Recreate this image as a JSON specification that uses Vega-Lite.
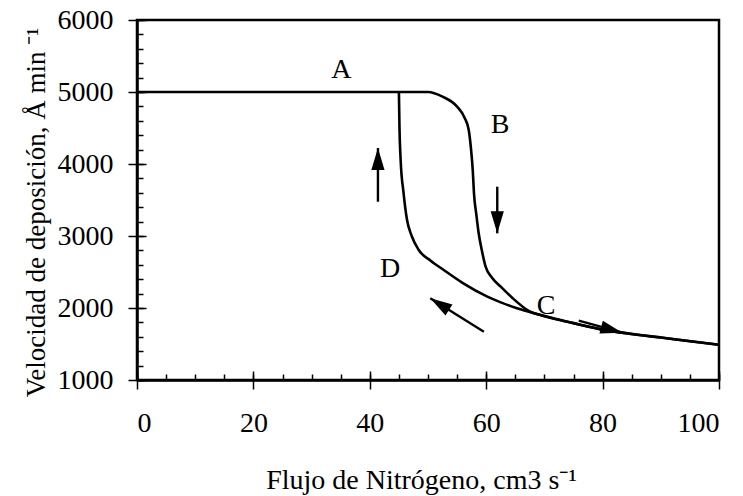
{
  "$schema": "https://vega.github.io/schema/vega-lite/v6.json",
  "width": 582,
  "height": 360,
  "autosize": {"type": "none"},
  "padding": {"left": 137, "top": 20, "right": 24, "bottom": 116},
  "background": "white",
  "config": {
    "view": {"stroke": "black", "strokeWidth": 2.5},
    "font": "Liberation Serif",
    "axis": {"labelFont": "Liberation Serif", "titleFont": "Liberation Serif", "labelColor": "black", "titleColor": "black", "tickColor": "black", "domainColor": "black", "titleFontWeight": "normal"}
  },
  "datasets": {
    "curve": [
      {"serie": "ida", "x": 0, "y": 5000},
      {"serie": "ida", "x": 25, "y": 5000},
      {"serie": "ida", "x": 50, "y": 5000},
      {"serie": "ida", "x": 52.5, "y": 4935},
      {"serie": "ida", "x": 55, "y": 4796},
      {"serie": "ida", "x": 56.3, "y": 4640},
      {"serie": "ida", "x": 57, "y": 4472},
      {"serie": "ida", "x": 57.4, "y": 4200},
      {"serie": "ida", "x": 57.7, "y": 3900},
      {"serie": "ida", "x": 57.9, "y": 3593},
      {"serie": "ida", "x": 58.3, "y": 3300},
      {"serie": "ida", "x": 58.7, "y": 3042},
      {"serie": "ida", "x": 59.3, "y": 2780},
      {"serie": "ida", "x": 59.9, "y": 2574},
      {"serie": "ida", "x": 61, "y": 2420},
      {"serie": "ida", "x": 62.5, "y": 2296},
      {"serie": "ida", "x": 64.5, "y": 2140},
      {"serie": "ida", "x": 67.3, "y": 1960},
      {"serie": "ida", "x": 70, "y": 1885},
      {"serie": "ida", "x": 75, "y": 1790},
      {"serie": "ida", "x": 80, "y": 1700},
      {"serie": "ida", "x": 85, "y": 1640},
      {"serie": "ida", "x": 90, "y": 1590},
      {"serie": "ida", "x": 95, "y": 1538},
      {"serie": "ida", "x": 100, "y": 1490},
      {"serie": "vuelta", "x": 45, "y": 5000},
      {"serie": "vuelta", "x": 45.1, "y": 4500},
      {"serie": "vuelta", "x": 45.3, "y": 4056},
      {"serie": "vuelta", "x": 45.8, "y": 3600},
      {"serie": "vuelta", "x": 46.4, "y": 3222},
      {"serie": "vuelta", "x": 47.2, "y": 3000},
      {"serie": "vuelta", "x": 48.4, "y": 2806},
      {"serie": "vuelta", "x": 50.4, "y": 2660},
      {"serie": "vuelta", "x": 52.7, "y": 2528},
      {"serie": "vuelta", "x": 56, "y": 2345},
      {"serie": "vuelta", "x": 60.2, "y": 2157},
      {"serie": "vuelta", "x": 62.5, "y": 2078},
      {"serie": "vuelta", "x": 65.3, "y": 1996},
      {"serie": "vuelta", "x": 68.2, "y": 1926},
      {"serie": "vuelta", "x": 72.8, "y": 1833},
      {"serie": "vuelta", "x": 80, "y": 1700},
      {"serie": "vuelta", "x": 90, "y": 1590},
      {"serie": "vuelta", "x": 100, "y": 1490}
    ],
    "arrows": [
      {"flecha": "arriba", "x": 41.4, "y": 3476, "x2": 41.4, "y2": 4222},
      {"flecha": "abajo", "x": 61.9, "y": 3685, "x2": 61.9, "y2": 3037},
      {"flecha": "izquierda", "x": 59.6, "y": 1671, "x2": 50.4, "y2": 2134},
      {"flecha": "derecha", "x": 75.9, "y": 1824, "x2": 83.4, "y2": 1657}
    ],
    "labels": [
      {"label": "A", "x": 35.1, "y": 5306},
      {"label": "B", "x": 62.4, "y": 4542},
      {"label": "C", "x": 70.3, "y": 2028},
      {"label": "D", "x": 43.5, "y": 2542}
    ]
  },
  "layer": [
    {
      "encoding": {
        "x": {"field": "x", "type": "quantitative", "scale": {"domain": [0, 100], "nice": false, "zero": false},
          "axis": {"orient": "bottom", "values": [0, 20, 40, 60, 80, 100], "format": "d", "tickSize": 9, "tickWidth": 1.5, "domainWidth": 2.5, "labelFontSize": 28, "labelPadding": 20, "title": "Flujo de Nitrógeno, cm3 s⁻¹", "titleFontSize": 28, "titleAlign": "center", "titleBaseline": "alphabetic", "titleX": 284, "titleY": 108, "grid": false}},
        "y": {"field": "y", "type": "quantitative", "scale": {"domain": [1000, 6000], "nice": false, "zero": false},
          "axis": {"orient": "left", "values": [1000, 2000, 3000, 4000, 5000, 6000], "format": "d", "tickSize": 9, "tickWidth": 1.5, "domainWidth": 2.5, "labelFontSize": 28, "labelPadding": 15, "labelBaseline": "middle", "title": "Velocidad de deposición, Å min ⁻¹", "titleFontSize": 27, "titleAngle": -90, "titleX": -93, "titleY": 192, "titleAlign": "center", "titleBaseline": "alphabetic", "grid": false}}
      },
      "layer": [
        {
          "data": {"name": "curve"},
          "mark": {"type": "line", "color": "black", "strokeWidth": 2.6, "interpolate": "monotone"},
          "encoding": {
            "detail": {"field": "serie", "type": "nominal"}
          }
        },
        {
          "data": {"name": "arrows"},
          "mark": {"type": "rule", "color": "black", "strokeWidth": 2.4},
          "encoding": {
            "x2": {"field": "x2"},
            "y2": {"field": "y2"}
          }
        },
        {
          "data": {"name": "arrows"},
          "transform": [{"filter": "datum.flecha === 'arriba'"}],
          "mark": {"type": "point", "shape": "M0,0L0.6,2L-0.6,2Z", "filled": true, "color": "black", "opacity": 1, "size": 484, "angle": 0},
          "encoding": {"x": {"field": "x2", "type": "quantitative"}, "y": {"field": "y2", "type": "quantitative"}}
        },
        {
          "data": {"name": "arrows"},
          "transform": [{"filter": "datum.flecha === 'abajo'"}],
          "mark": {"type": "point", "shape": "M0,0L0.6,2L-0.6,2Z", "filled": true, "color": "black", "opacity": 1, "size": 484, "angle": 180},
          "encoding": {"x": {"field": "x2", "type": "quantitative"}, "y": {"field": "y2", "type": "quantitative"}}
        },
        {
          "data": {"name": "arrows"},
          "transform": [{"filter": "datum.flecha === 'izquierda'"}],
          "mark": {"type": "point", "shape": "M0,0L0.6,2L-0.6,2Z", "filled": true, "color": "black", "opacity": 1, "size": 484, "angle": 302},
          "encoding": {"x": {"field": "x2", "type": "quantitative"}, "y": {"field": "y2", "type": "quantitative"}}
        },
        {
          "data": {"name": "arrows"},
          "transform": [{"filter": "datum.flecha === 'derecha'"}],
          "mark": {"type": "point", "shape": "M0,0L0.6,2L-0.6,2Z", "filled": true, "color": "black", "opacity": 1, "size": 484, "angle": 105},
          "encoding": {"x": {"field": "x2", "type": "quantitative"}, "y": {"field": "y2", "type": "quantitative"}}
        },
        {
          "data": {"name": "labels"},
          "mark": {"type": "text", "font": "Liberation Serif", "fontSize": 28, "color": "black", "align": "center", "baseline": "middle"},
          "encoding": {"text": {"field": "label", "type": "nominal"}}
        }
      ]
    },
    {
      "data": {"name": "labels"},
      "mark": {"type": "point", "opacity": 0},
      "encoding": {
        "x": {"field": "x", "type": "quantitative", "scale": {"domain": [0, 100], "nice": false, "zero": false},
          "axis": {"orient": "bottom", "values": [0, 5, 10, 15, 20, 25, 30, 35, 40, 45, 50, 55, 60, 65, 70, 75, 80, 85, 90, 95, 100], "tickSize": -6, "tickWidth": 1.5, "labels": false, "domain": false, "title": null, "grid": false}},
        "y": {"field": "y", "type": "quantitative", "scale": {"domain": [1000, 6000], "nice": false, "zero": false},
          "axis": {"orient": "left", "values": [1000, 1200, 1400, 1600, 1800, 2000, 2200, 2400, 2600, 2800, 3000, 3200, 3400, 3600, 3800, 4000, 4200, 4400, 4600, 4800, 5000, 5200, 5400, 5600, 5800, 6000], "tickSize": -6, "tickWidth": 1.5, "labels": false, "domain": false, "title": null, "grid": false}}
      }
    },
    {
      "data": {"name": "labels"},
      "mark": {"type": "point", "opacity": 0},
      "encoding": {
        "x": {"field": "x", "type": "quantitative", "scale": {"domain": [0, 100], "nice": false, "zero": false},
          "axis": {"orient": "bottom", "values": [0, 20, 40, 60, 80, 100], "tickSize": -9, "tickWidth": 1.5, "labels": false, "domain": false, "title": null, "grid": false}},
        "y": {"field": "y", "type": "quantitative", "scale": {"domain": [1000, 6000], "nice": false, "zero": false},
          "axis": {"orient": "left", "values": [1000, 2000, 3000, 4000, 5000, 6000], "tickSize": -9, "tickWidth": 1.5, "labels": false, "domain": false, "title": null, "grid": false}}
      }
    }
  ],
  "resolve": {"scale": {"x": "independent", "y": "independent"}, "axis": {"x": "independent", "y": "independent"}}
}
